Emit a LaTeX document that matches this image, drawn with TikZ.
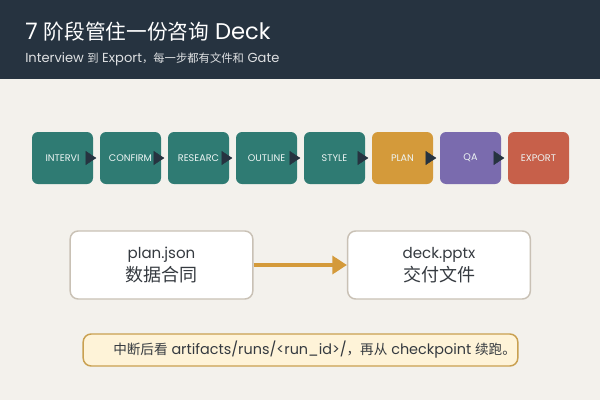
\documentclass[tikz,border=0pt]{standalone}
\usepackage{fontspec}
\setmainfont{Poppins}
\newfontfamily\cjk{Noto Sans CJK SC}
\usetikzlibrary{arrows.meta}
\usetikzlibrary{positioning}

\definecolor{hdr}{HTML}{263340}
\definecolor{paper}{HTML}{F3F1EC}
\definecolor{teal}{HTML}{2F7B73}
\definecolor{gold}{HTML}{D49A3A}
\definecolor{violet}{HTML}{7A6BAE}
\definecolor{brick}{HTML}{C7604A}
\definecolor{rim}{HTML}{C9C1B5}
\definecolor{ink}{HTML}{353A40}
\definecolor{cream}{HTML}{FEF3D8}
\definecolor{creamrim}{HTML}{C9A050}

\newcommand{\zh}[2]{{\cjk\fontsize{#1}{#1}\selectfont #2}}

\begin{document}
\begin{tikzpicture}[x=0.75pt,y=-0.75pt,node distance=51pt,
stage/.style={rectangle,rounded corners=4.5pt,minimum width=45.75pt,minimum height=39pt,
  inner sep=0pt,text=white!92!teal,font=\fontsize{7.2}{8}\selectfont},
flow/.style={-{Triangle[length=8pt,width=10.5pt]},line width=0.3pt,draw=hdr},
file node/.style={rectangle,rounded corners=6pt,draw=rim,line width=1.1pt,fill=white,
  minimum width=137pt,minimum height=51pt,align=center,text=ink,
  font=\fontsize{11.3}{17.5}\selectfont}]

% background and header
\fill[paper] (0,0) rectangle (600,400);
\fill[hdr] (0,0) rectangle (600,79);
\node[anchor=west,text=white,font=\fontsize{17}{20}\selectfont,inner sep=0pt] (title) at (25,32)
  {7 \zh{15.5}{阶段管住一份咨询} Deck};
\node[anchor=west,text=white!85!hdr,font=\fontsize{9.8}{12}\selectfont,inner sep=0pt] (subtitle) at (25,59)
  {Interview \zh{8.5}{到} Export\zh{8.5}{，每一步都有文件和} Gate};

% stage chain
\node[stage,fill=teal] (s1) at (62.5,158) {INTERVI};
\node[stage,fill=teal] (s2) [right of=s1] {CONFIRM};
\node[stage,fill=teal] (s3) [right of=s2] {RESEARC};
\node[stage,fill=teal] (s4) [right of=s3] {OUTLINE};
\node[stage,fill=teal] (s5) [right of=s4] {STYLE};
\node[stage,fill=gold] (s6) [right of=s5] {PLAN};
\node[stage,fill=violet] (s7) [right of=s6] {QA};
\node[stage,fill=brick] (s8) [right of=s7] {EXPORT};

\draw[flow] ([xshift=-5.25pt]s1.east) -- ([xshift=-2.6pt]s2.west);
\draw[flow] ([xshift=-5.25pt]s2.east) -- ([xshift=-2.6pt]s3.west);
\draw[flow] ([xshift=-5.25pt]s3.east) -- ([xshift=-2.6pt]s4.west);
\draw[flow] ([xshift=-5.25pt]s4.east) -- ([xshift=-2.6pt]s5.west);
\draw[flow] ([xshift=-5.25pt]s5.east) -- ([xshift=-2.6pt]s6.west);
\draw[flow] ([xshift=-5.25pt]s6.east) -- ([xshift=-2.6pt]s7.west);
\draw[flow] ([xshift=-5.25pt]s7.east) -- ([xshift=-2.6pt]s8.west);

% artifacts
\node[file node] (plan) at (161.5,265) {plan.json\\\zh{13.5}{数据合同}};
\node[file node] (deck) at (439,265) {deck.pptx\\\zh{13.5}{交付文件}};
\draw[-{Triangle[length=11pt,width=13.5pt]},line width=3pt,draw=gold,fill=gold] (plan) -- (deck);

% resume note
\node[rectangle,rounded corners=6pt,draw=creamrim,fill=cream,line width=1.1pt,
  minimum width=326pt,minimum height=24pt] (note) at (300.5,350) {};
\node[anchor=west,text=ink,font=\fontsize{10.8}{12}\selectfont,inner sep=0pt] (notetext) at (113,350)
  {\zh{10.2}{中断后看} artifacts/runs/<run\_id>/\zh{10.2}{，再从} checkpoint \zh{10.2}{续跑。}};
\end{tikzpicture}
\end{document}
